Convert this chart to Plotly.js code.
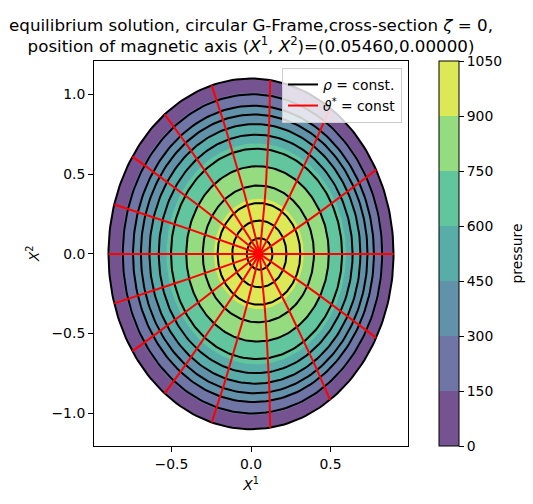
<!DOCTYPE html>
<html><head><meta charset="utf-8">
<script src="https://cdn.plot.ly/plotly-3.0.1.min.js"></script>
<style>html,body{margin:0;padding:0;background:#fff}</style>
</head><body><div id="chart" style="width:533px;height:504px"></div>
<script>
// ---- data ----
const axisPos = [0.05460, 0.00000];              // magnetic axis (X1, X2)
const semiAxes = [0.896, 1.10];                  // boundary half-width / half-height
const ringRho = [0.09, 0.19, 0.29, 0.39, 0.50, 0.60, 0.68, 0.74, 0.795, 0.845, 0.91, 1.0];
const ringShift = [0.0542, 0.0526, 0.0500, 0.0463, 0.0410, 0.0349, 0.0294, 0.0247, 0.0201, 0.0156, 0.0094, 0.0];
const thetaStarDeg = [0, 22.5, 45, 67.5, 90, 112.5, 135, 157.5, 180, 202.5, 225, 247.5, 270, 292.5, 315, 337.5];
const thetaOffsetDeg = 16;                       // geometric angle = theta* + offset*sin(theta*)
const pressureLevels = [0, 150, 300, 450, 600, 750, 900, 1050];
const pressureRho = [1.0, 0.92, 0.84, 0.745, 0.63, 0.50, 0.315];   // outer edge of each band
const pressureShift = [0.0, 0.0084, 0.0161, 0.0243, 0.0329, 0.0410, 0.0492];

// ---- styles ----
const bandColors = ['rgb(117,83,145)', 'rgb(111,118,166)', 'rgb(98,146,170)', 'rgb(89,173,169)',
                    'rgb(97,197,158)', 'rgb(149,219,128)', 'rgb(220,232,86)'];
const FONT = 'DejaVu Sans, sans-serif';
const NPT = 240;

function ellipse(shift, rho) {
  const xs = [], ys = [];
  for (let i = 0; i <= NPT; i++) {
    const t = 2 * Math.PI * i / NPT;
    xs.push(shift + semiAxes[0] * rho * Math.cos(t));
    ys.push(axisPos[1] + semiAxes[1] * rho * Math.sin(t));
  }
  return [xs, ys];
}

const traces = [];
// filled pressure bands (outer to inner)
pressureRho.forEach((r, i) => {
  const [xs, ys] = ellipse(pressureShift[i], r);
  traces.push({type: 'scatter', mode: 'lines', x: xs, y: ys, fill: 'toself',
    fillcolor: bandColors[i], line: {width: 0, color: bandColors[i]},
    showlegend: false, hoverinfo: 'skip'});
});

// rho = const rings
{
  const xs = [], ys = [];
  ringRho.forEach((r, i) => {
    const [ex, ey] = ellipse(ringShift[i], r);
    xs.push(...ex, null); ys.push(...ey, null);
  });
  traces.push({type: 'scatter', mode: 'lines', x: xs, y: ys, name: '<i>ρ</i> = const.',
    line: {color: '#000000', width: 2}, hoverinfo: 'skip'});
}

// theta* = const lines
{
  const xs = [], ys = [];
  const rhos = [0].concat(ringRho);
  const shifts = [axisPos[0]].concat(ringShift);
  thetaStarDeg.forEach(ts => {
    const t0 = ts * Math.PI / 180;
    const th = t0 + (thetaOffsetDeg * Math.PI / 180) * Math.sin(t0);
    rhos.forEach((r, j) => {
      xs.push(shifts[j] + semiAxes[0] * r * Math.cos(th));
      ys.push(axisPos[1] + semiAxes[1] * r * Math.sin(th));
    });
    xs.push(null); ys.push(null);
  });
  traces.push({type: 'scatter', mode: 'lines', x: xs, y: ys, name: '<i>ϑ</i><sup>*</sup> = const',
    line: {color: '#ff0000', width: 2}, hoverinfo: 'skip'});
}

// colorbar carrier
const nb = bandColors.length;
const cscale = [];
bandColors.forEach((c, i) => { cscale.push([i / nb, c]); cscale.push([(i + 1) / nb, c]); });
traces.push({type: 'scatter', mode: 'markers', x: [axisPos[0]], y: [axisPos[1]],
  showlegend: false, hoverinfo: 'skip',
  marker: {size: 1, opacity: 0, color: [0], cmin: pressureLevels[0], cmax: pressureLevels[pressureLevels.length - 1],
    colorscale: cscale, showscale: true,
    colorbar: {x: 1.0987, xanchor: 'left', xref: 'paper', y: 0.5, yanchor: 'middle',
      len: 1, lenmode: 'fraction', thickness: 20, thicknessmode: 'pixels', xpad: 0, ypad: 0,
      outlinewidth: 1, outlinecolor: '#000', ticks: 'outside', ticklen: 5, tickwidth: 1, tickcolor: '#000',
      tickvals: pressureLevels, ticktext: pressureLevels.map(String),
      tickfont: {family: FONT, size: 13.9, color: '#000'}}}});

const axisCommon = {showgrid: false, zeroline: false, showline: true, mirror: true, linecolor: '#000', linewidth: 1,
  ticks: 'outside', ticklen: 5, tickwidth: 1, tickcolor: '#000', tickformat: '.1f',
  tickfont: {family: FONT, size: 13.9, color: '#000'}};

const layout = {
  width: 533, height: 504, autosize: false,
  margin: {l: 94, r: 125, t: 61, b: 58},
  paper_bgcolor: '#fff', plot_bgcolor: '#fff',
  font: {family: FONT, color: '#000'},
  title: {text: 'equilibrium solution, circular G-Frame,cross-section <i>ζ</i> = 0,<br>position of magnetic axis (<i>X</i><sup>1</sup>, <i>X</i><sup>2</sup>)=(0.05460,0.00000)',
    x: 0.5, xref: 'paper', xanchor: 'center', y: 0.939, yref: 'container', yanchor: 'top',
    font: {family: FONT, size: 16.7, color: '#000'}},
  xaxis: Object.assign({}, axisCommon, {range: [-0.987, 0.987], tickvals: [-0.5, 0, 0.5],
    title: {text: '<i>X</i><sup>1</sup>', standoff: 9, font: {family: FONT, size: 13.9, color: '#000'}}}),
  yaxis: Object.assign({}, axisCommon, {range: [-1.205, 1.21], tickvals: [-1, -0.5, 0, 0.5, 1],
    title: {text: '<i>X</i><sup>2</sup>', standoff: 8, font: {family: FONT, size: 13.9, color: '#000'}}}),
  legend: {x: 0.981, xanchor: 'right', y: 0.982, yanchor: 'top', bgcolor: 'rgba(255,255,255,0.8)',
    bordercolor: '#cccccc', borderwidth: 1, font: {family: FONT, size: 13.9, color: '#000'}, itemwidth: 30},
  annotations: [{text: 'pressure', xref: 'paper', yref: 'paper', x: 1.347, y: 0.5, xanchor: 'center', yanchor: 'middle',
    textangle: -90, showarrow: false, font: {family: FONT, size: 13.9, color: '#000'}}],
  showlegend: true
};

Plotly.newPlot('chart', traces, layout, {displayModeBar: false, staticPlot: true});
</script>
</body></html>
